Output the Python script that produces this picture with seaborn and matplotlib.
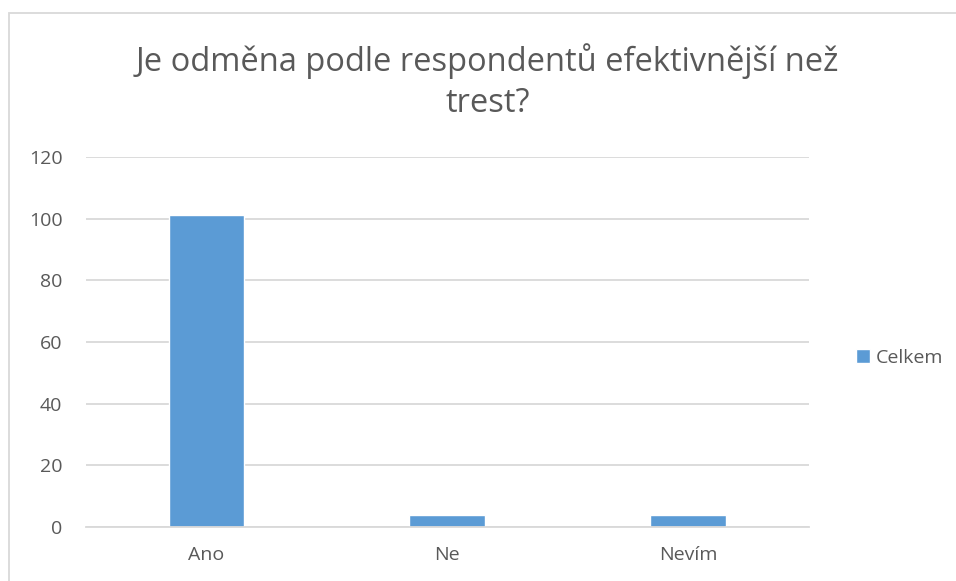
import matplotlib
matplotlib.use("Agg")
import matplotlib.pyplot as plt
import seaborn as sns
import pandas as pd
from matplotlib.patches import Rectangle

# data
kategorie = ["Ano", "Ne", "Nevím"]
celkem = [101, 4, 4]
y_ticks = [0, 20, 40, 60, 80, 100, 120]

df = pd.DataFrame({"odpoved": kategorie, "Celkem": celkem})

sns.set_theme(style="white")
plt.rcParams["font.family"] = ["Open Sans", "DejaVu Sans"]

text_col = "#595959"
grid_col = "#d9d9d9"
bar_col = "#5b9bd5"

fig = plt.figure(figsize=(9.56, 5.81), dpi=100)
ax = fig.add_axes([0.09, 0.093, 0.756, 0.637])

sns.barplot(data=df, x="odpoved", y="Celkem", color=bar_col, width=0.315,
            ax=ax, label="Celkem", saturation=1)

ax.set_ylim(0, 120)
ax.set_yticks(y_ticks)
ax.yaxis.grid(True, color=grid_col, linewidth=1.3)
ax.set_axisbelow(True)
for s in ["top", "right", "left"]:
    ax.spines[s].set_visible(False)
ax.spines["bottom"].set_color(grid_col)
ax.spines["bottom"].set_linewidth(1.3)
ax.tick_params(axis="both", length=0, labelsize=14, colors=text_col)
ax.tick_params(axis="y", pad=17)
ax.tick_params(axis="x", pad=14)
ax.set_xlabel("")
ax.set_ylabel("")

fig.text(0.51, 0.86, "Je odměna podle respondentů efektivnější než\ntrest?",
         ha="center", va="center", fontsize=23.5, color=text_col, linespacing=1.3)

ax.legend(loc="center left", bbox_to_anchor=(1.055, 0.457), frameon=False,
          borderaxespad=0, fontsize=14, labelcolor=text_col,
          handlelength=0.7, handleheight=0.7, handletextpad=0.3)

# outer chart border
fig.patches.append(Rectangle((9 / 956, -0.1), 1.1, (1 - 13 / 581) + 0.1,
                             transform=fig.transFigure, fill=False,
                             edgecolor="#d9d9d9", linewidth=1.3))

fig.savefig("out.png", dpi=100)
